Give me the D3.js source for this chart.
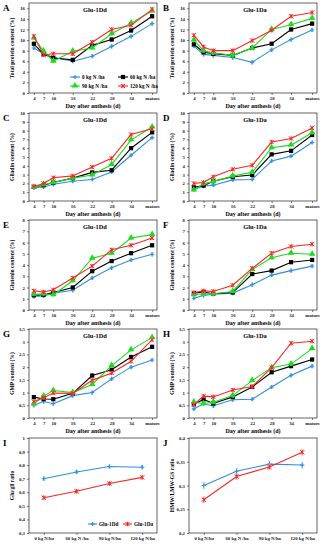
<!DOCTYPE html>
<html>
<head>
<meta charset="utf-8">
<script src="https://cdn.jsdelivr.net/npm/d3@7"></script>
<style>
  body { margin: 0; background: #fff; }
  svg { display: block; }
  text { font-family: "Liberation Serif", "DejaVu Serif", serif; }
</style>
</head>
<body>
<svg id="chart" width="323" height="550"></svg>
<script>
// ---- data ----
var days = [4, 7, 10, 16, 22, 28, 34, 40.5];
var dayLabels = ["4", "7", "10", "16", "22", "28", "34", "mature"];
var rates = ["0 kg N /ha", "60 kg N /ha", "90 kg N /ha", "120 kg N /ha"];
var rateLabels = ["0 kg N/ha", "60 kg N /ha", "90 kg N/ha", "120 kg N/ha"];
var lines = ["Glu-1Dd", "Glu-1Da"];

// total protein (%)
var proteinDd = [
  [8.5, 7.4, 6.75, 6.0, 6.95, 8.8, 10.7, 13.1],
  [9.3, 7.3, 6.6, 6.25, 9.0, 10.1, 11.8, 14.5],
  [10.4, 7.9, 6.0, 7.9, 8.5, 11.2, 13.2, 15.5],
  [10.7, 7.2, 7.4, 7.4, 9.6, 12.0, 12.8, 15.8]
];
var proteinDa = [
  [8.85, 7.3, 7.1, 6.7, 5.8, 8.15, 10.1, 11.9],
  [9.2, 7.7, 7.4, 7.1, 8.5, 9.3, 12.0, 13.1],
  [10.0, 8.0, 7.6, 7.1, 8.5, 12.0, 12.9, 14.1],
  [10.9, 8.7, 8.0, 8.0, 9.9, 11.85, 14.5, 15.2]
];
// gliadin (%)
var gliadinDd = [
  [1.5, 1.6, 1.9, 2.25, 2.45, 3.3, 5.2, 7.2],
  [1.6, 1.8, 2.1, 2.6, 3.25, 3.5, 6.0, 7.8],
  [1.55, 1.85, 2.1, 2.6, 2.95, 4.15, 6.95, 8.4],
  [1.65, 2.0, 2.65, 2.85, 3.85, 4.85, 7.55, 8.2]
];
var gliadinDa = [
  [1.3, 1.7, 1.8, 2.4, 2.45, 4.55, 5.1, 6.65],
  [1.55, 1.75, 2.25, 2.75, 2.95, 5.3, 5.7, 7.5],
  [1.25, 1.95, 2.2, 2.85, 3.25, 6.05, 6.35, 7.75],
  [2.0, 2.1, 2.75, 3.6, 4.05, 6.7, 7.1, 8.3]
];
// glutenin (%)
var gluteninDd = [
  [1.2, 1.25, 1.5, 1.75, 2.85, 3.75, 4.45, 4.95],
  [1.3, 1.35, 1.55, 2.0, 3.45, 4.35, 5.05, 5.75],
  [1.4, 1.45, 1.35, 2.6, 4.6, 5.05, 6.4, 6.7],
  [1.7, 1.6, 1.8, 2.85, 3.9, 5.35, 5.75, 6.4]
];
var gluteninDa = [
  [1.05, 1.3, 1.4, 1.5, 2.25, 3.1, 3.5, 3.9],
  [1.5, 1.6, 1.45, 1.55, 3.2, 3.5, 4.25, 4.45],
  [1.35, 1.45, 1.45, 1.65, 3.6, 4.65, 5.05, 4.95],
  [1.55, 1.7, 1.65, 2.2, 3.7, 5.05, 5.65, 5.85]
];
// GMP (%)
var gmpDd = [
  [0.5, 0.65, 0.56, 0.88, 1.0, 1.54, 2.0, 2.28],
  [0.82, 0.75, 0.74, 0.97, 1.67, 1.9, 2.4, 2.8],
  [0.55, 0.86, 1.08, 1.0, 1.32, 2.06, 2.68, 3.16],
  [0.65, 0.8, 0.98, 0.97, 1.48, 1.77, 2.23, 3.08]
];
var gmpDa = [
  [0.36, 0.55, 0.48, 0.72, 0.74, 1.22, 1.68, 2.04],
  [0.54, 0.73, 0.57, 0.83, 1.22, 1.8, 2.04, 2.3],
  [0.62, 0.57, 0.62, 0.88, 1.47, 1.98, 2.12, 2.73],
  [0.53, 0.86, 0.83, 1.1, 1.24, 1.98, 2.94, 3.02]
];
// ratios by N rate, one row per line (Dd, Da)
var gluGliRatio = [
  [0.70, 0.75, 0.79, 0.785],
  [0.56, 0.607, 0.665, 0.71]
];
var hmwLmwRatio = [
  [0.30, 0.33, 0.345, 0.343],
  [0.27, 0.319, 0.339, 0.37]
];

// ---- styles ----
var rateColors = ["#2f8fde", "#000000", "#1bdc1b", "#ff2424"];
var rateErrColors = ["#8fc4ef", "#9a9a9a", "#8fee8f", "#ff9a9a"];
var rateMarks = ["plus", "square", "triangle", "star"];
var lineColors = ["#2f8fde", "#ff2424"];
var lineErrColors = ["#8fc4ef", "#ff9a9a"];
var lineMarks = ["plus", "star"];

var comma = function(d) { return String(d).replace(".", ","); };

var svg = d3.select("#chart");

var colL = { left: 29, right: 157 }, colR = { left: 189, right: 317 };
var rowBox = [
  { top: 3, bottom: 93 },
  { top: 113, bottom: 201 },
  { top: 220, bottom: 310 },
  { top: 329, bottom: 418 },
  { top: 438, bottom: 533 }
];

function marker(g, type, color, x, y) {
  var s = 2.1;
  if (type === "square") {
    g.append("rect").attr("x", x - s).attr("y", y - s).attr("width", 2 * s).attr("height", 2 * s).attr("fill", color);
  } else if (type === "triangle") {
    g.append("path").attr("d", d3.symbol().type(d3.symbolTriangle).size(18)()).attr("transform", "translate(" + x + "," + (y - 0.4) + ")").attr("fill", color);
  } else if (type === "plus") {
    g.append("path").attr("d", "M" + (x - s) + "," + y + "H" + (x + s) + "M" + x + "," + (y - s) + "V" + (y + s))
      .attr("stroke", color).attr("stroke-width", 1.1);
  } else {
    g.append("path").attr("d", "M" + (x - s) + "," + (y - s) + "L" + (x + s) + "," + (y + s) + "M" + (x + s) + "," + (y - s) + "L" + (x - s) + "," + (y + s) + "M" + x + "," + (y - s) + "V" + (y + s))
      .attr("stroke", color).attr("stroke-width", 1);
  }
}

function panel(o) {
  var g = svg.append("g");
  var x = o.x, y = o.y;
  var box = o.box, col = o.col;

  // frame
  g.append("rect").attr("x", col.left).attr("y", box.top)
    .attr("width", col.right - col.left).attr("height", box.bottom - box.top)
    .attr("fill", "none").attr("stroke", "#222").attr("stroke-width", 0.7);

  // y axis
  var ya = g.append("g").attr("transform", "translate(" + col.left + ",0)")
    .call(d3.axisLeft(y).tickValues(o.yTicks).tickSize(2).tickPadding(2).tickFormat(comma));
  ya.select(".domain").remove();
  ya.selectAll("line").attr("stroke", "#222").attr("stroke-width", 0.6);
  ya.selectAll("text").attr("font-size", 4.8).attr("font-weight", "bold").attr("fill", "#222");

  // x axis
  var xa = g.append("g").attr("transform", "translate(0," + box.bottom + ")")
    .call(d3.axisBottom(x).tickValues(o.xTicks).tickSize(2).tickPadding(1).tickFormat(function(d, i) { return o.xLabels[i]; }));
  xa.select(".domain").remove();
  xa.selectAll("line").attr("stroke", "#222").attr("stroke-width", 0.6);
  xa.selectAll("text").attr("font-size", 4.8).attr("font-weight", "bold").attr("fill", "#222").attr("dy", "0.75em");

  if (o.xTitle)
    g.append("text").attr("x", (col.left + col.right) / 2).attr("y", box.bottom + 14.5)
      .attr("text-anchor", "middle").attr("font-size", 6).attr("font-weight", "bold").text(o.xTitle);

  g.append("text").attr("transform", "translate(" + (col.left - 15) + "," + ((box.top + box.bottom) / 2) + ") rotate(-90)")
    .attr("text-anchor", "middle").attr("font-size", 5.6).attr("font-weight", "bold").text(o.yTitle);

  if (o.title)
    g.append("text").attr("x", (col.left + col.right) / 2 + 2).attr("y", box.top + 9)
      .attr("text-anchor", "middle").attr("font-size", 6.4).attr("font-weight", "bold").text(o.title);

  g.append("text").attr("x", col.left - 26).attr("y", box.top + 8)
    .attr("font-family", "Liberation Sans, Arial, sans-serif").attr("font-size", 9).attr("font-weight", "bold").text(o.letter);

  // series
  var line = d3.line().x(function(d) { return x(d[0]); }).y(function(d) { return y(d[1]); });
  o.series.forEach(function(vals, si) {
    var pts = o.xTicks.map(function(t, i) { return [t, vals[i]]; });
    // error bars
    pts.forEach(function(p) {
      var e = o.err;
      g.append("path").attr("d", "M" + x(p[0]) + "," + y(p[1] - e) + "V" + y(p[1] + e) +
        "M" + (x(p[0]) - 1.3) + "," + y(p[1] - e) + "h2.6M" + (x(p[0]) - 1.3) + "," + y(p[1] + e) + "h2.6")
        .attr("stroke", o.errColors[si]).attr("stroke-width", 0.8).attr("fill", "none");
    });
    g.append("path").datum(pts).attr("d", line).attr("fill", "none")
      .attr("stroke", o.colors[si]).attr("stroke-width", 1.1);
    pts.forEach(function(p) { marker(g, o.marks[si], o.colors[si], x(p[0]), y(p[1])); });
  });
  return g;
}

function dayPanel(letter, title, yTitle, series, col, row, yMax, yTicks, err) {
  return panel({
    letter: letter, title: title, yTitle: yTitle, series: series,
    col: col, box: rowBox[row], err: err,
    x: d3.scaleLinear().domain([2.5, 42]).range([col.left, col.right]),
    y: d3.scaleLinear().domain([0, yMax]).range([rowBox[row].bottom, rowBox[row].top]),
    xTicks: days, xLabels: dayLabels, yTicks: yTicks,
    xTitle: "Day after anthesis (d)",
    colors: rateColors, errColors: rateErrColors, marks: rateMarks
  });
}

var t016 = d3.range(0, 17, 2), t010 = d3.range(0, 11), t08 = d3.range(0, 9);
var t35 = [0, 0.5, 1, 1.5, 2, 2.5, 3, 3.5];

var pA = dayPanel("A", "Glu-1Dd", "Total protein content (%)", proteinDd, colL, 0, 17, t016, 0.3);
dayPanel("B", "Glu-1Da", "Total protein content (%)", proteinDa, colR, 0, 17, t016, 0.3);
dayPanel("C", "Glu-1Dd", "Gliadin content (%)", gliadinDd, colL, 1, 10, t010, 0.13);
dayPanel("D", "Glu-1Da", "Gliadin  content (%)", gliadinDa, colR, 1, 10, t010, 0.13);
dayPanel("E", "Glu-1Dd", "Glutenin content (%)", gluteninDd, colL, 2, 8, t08, 0.13);
dayPanel("F", "Glu-1Da", "Glutenin content (%)", gluteninDa, colR, 2, 8, t08, 0.13);
dayPanel("G", "Glu-1Dd", "GMP content (%)", gmpDd, colL, 3, 3.5, t35, 0.06);
dayPanel("H", "Glu-1Da", "GMP content  (%)", gmpDa, colR, 3, 3.5, t35, 0.06);

function ratePanel(letter, yTitle, series, col, y0, y1, yTicks, err) {
  var xs = d3.scalePoint().domain(rates).range([col.left, col.right]).padding(0.45);
  var box = rowBox[4];
  return panel({
    letter: letter, title: null, yTitle: yTitle, series: series,
    col: col, box: box, err: err,
    x: xs, y: d3.scaleLinear().domain([y0, y1]).range([box.bottom, box.top]),
    xTicks: rates, xLabels: rateLabels, yTicks: yTicks, xTitle: null,
    colors: lineColors, errColors: lineErrColors, marks: lineMarks
  });
}
var pI = ratePanel("I", "Glu/gli ratio", gluGliRatio, colL, 0.3, 1, [0.3, 0.4, 0.5, 0.6, 0.7, 0.8, 0.9, 1], 0.012);
ratePanel("J", "HMW/LMW-GS  ratio", hmwLmwRatio, colR, 0.2, 0.4, [0.2, 0.25, 0.3, 0.35, 0.4], 0.006);

// legend of panel A
var legA = pA.append("g");
rates.forEach(function(r, i) {
  var lx = i % 2 === 0 ? 70 : 118, ly = i < 2 ? 77 : 86;
  legA.append("line").attr("x1", lx).attr("x2", lx + 10).attr("y1", ly).attr("y2", ly)
    .attr("stroke", rateColors[i]).attr("stroke-width", 1.1);
  marker(legA, rateMarks[i], rateColors[i], lx + 5, ly);
  legA.append("text").attr("x", lx + 12).attr("y", ly + 1.8).attr("font-size", 5.2)
    .attr("font-weight", "bold").text(r);
});

// legend of panel I
var legI = pI.append("g");
lines.forEach(function(l, i) {
  var lx = i === 0 ? 88 : 123, ly = 524;
  legI.append("line").attr("x1", lx).attr("x2", lx + 9).attr("y1", ly).attr("y2", ly)
    .attr("stroke", lineColors[i]).attr("stroke-width", 1.1);
  marker(legI, lineMarks[i], lineColors[i], lx + 4.5, ly);
  legI.append("text").attr("x", lx + 11).attr("y", ly + 1.8).attr("font-size", 5.2)
    .attr("font-weight", "bold").text(l);
});
</script>
</body>
</html>
